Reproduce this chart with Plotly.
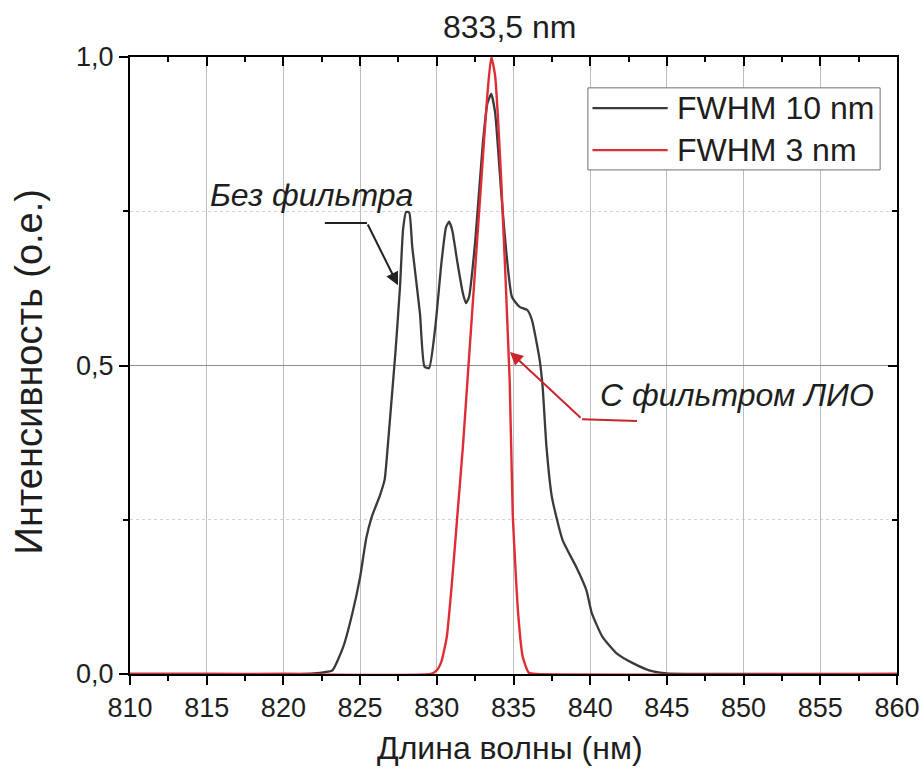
import plotly.graph_objects as go

# ---- data ----
wl_10nm = [810, 815, 820, 822, 822.7, 823.2, 823.9, 824.5, 825.0, 825.4, 825.75, 826.3, 826.6,
           826.8, 827.05, 827.3, 827.6, 827.8, 828.0, 828.2, 828.4, 828.9, 829.2, 829.5, 829.9,
           830.3, 830.6, 830.8, 831.0, 831.35, 831.7, 831.9, 832.1, 832.5, 833.0, 833.3, 833.55,
           833.8, 834.2, 834.5, 834.9, 835.4, 835.9, 836.2, 836.7, 836.9, 837.15, 837.5, 838.2,
           839.1, 839.75, 840.1, 840.8, 841.7, 842.75, 843.85, 845, 850, 860]
int_10nm = [0.0, 0.0, 0.0, 0.001, 0.003, 0.006, 0.044, 0.099, 0.157, 0.22, 0.254, 0.29, 0.315,
            0.368, 0.444, 0.52, 0.627, 0.72, 0.749, 0.748, 0.692, 0.585, 0.498, 0.496, 0.562,
            0.666, 0.724, 0.733, 0.72, 0.666, 0.617, 0.601, 0.611, 0.70, 0.86, 0.925, 0.94,
            0.91, 0.78, 0.692, 0.611, 0.595, 0.59, 0.574, 0.51, 0.465, 0.368, 0.287, 0.217,
            0.173, 0.136, 0.099, 0.06, 0.034, 0.018, 0.006, 0.001, 0.0, 0.0]

wl_3nm = [810, 820, 829.6, 830.0, 830.3, 830.65, 831.0, 831.35, 831.7, 832.0, 832.9, 833.3,
          833.55, 833.8, 834.2, 834.75, 834.95, 835.3, 835.6, 836.0, 836.5, 860]
int_3nm = [0.0, 0.0, 0.0, 0.006, 0.02, 0.06, 0.152, 0.26, 0.368, 0.476, 0.8, 0.94,
           1.0, 0.97, 0.8, 0.476, 0.26, 0.099, 0.028, 0.002, 0.0, 0.0]

x_ticks = [810, 815, 820, 825, 830, 835, 840, 845, 850, 855, 860]
y_ticks = [0.0, 0.5, 1.0]
y_tick_labels = ["0,0", "0,5", "1,0"]

series_names = ["FWHM 10 nm", "FWHM 3 nm"]
peak_label = "833,5 nm"
label_no_filter = "Без фильтра"
label_filter = "С фильтром ЛИО"
x_title = "Длина волны (нм)"
y_title = "Интенсивность (о.е.)"

FONT = "Liberation Sans, Arial, sans-serif"
TXT = "#1e1e1e"
BLACK = "#3a3a3a"
RED = "#de2d34"
colors = [BLACK, RED]

fig = go.Figure()
fig.add_trace(go.Scatter(x=wl_10nm, y=int_10nm, mode="lines", name=series_names[0],
                         line=dict(color=BLACK, width=2.3, shape="spline", smoothing=0.5)))
fig.add_trace(go.Scatter(x=wl_3nm, y=int_3nm, mode="lines", name=series_names[1],
                         line=dict(color=RED, width=2.4, shape="spline", smoothing=0.5)))
# invisible trace to activate the mirrored axes
fig.add_trace(go.Scatter(x=[810], y=[0], xaxis="x2", yaxis="y2", mode="markers",
                         marker=dict(opacity=0), showlegend=False, hoverinfo="skip"))

tickfont = dict(family=FONT, size=27, color=TXT)
fig.update_layout(
    width=922, height=773,
    margin=dict(l=130, r=25, t=57, b=99, autoexpand=False),
    plot_bgcolor="white", paper_bgcolor="white",
    font=dict(family=FONT, color=TXT),
    showlegend=False,
    xaxis=dict(range=[810, 860], tickvals=x_ticks, ticks="outside", ticklen=9, tickwidth=2,
               tickcolor="black", showline=True, linecolor="black", linewidth=2,
               showgrid=True, gridcolor="#bdbdbd", gridwidth=1, zeroline=False,
               tickfont=tickfont, automargin=False,
               minor=dict(dtick=2.5, ticks="outside", ticklen=5, tickwidth=2, tickcolor="black",
                          showgrid=False)),
    yaxis=dict(range=[0, 1], tickvals=y_ticks, ticktext=y_tick_labels, ticks="outside",
               ticklen=9, tickwidth=2, tickcolor="black", showline=True, linecolor="black",
               linewidth=2, showgrid=True, gridcolor="#8e8e8e", gridwidth=1, zeroline=False,
               tickfont=tickfont, automargin=False,
               minor=dict(dtick=0.25, ticks="outside", ticklen=5, tickwidth=2, tickcolor="black",
                          showgrid=True, gridcolor="#d4d4d4", griddash="dot", gridwidth=1)),
    xaxis2=dict(range=[810, 860], overlaying="x", side="top", tickvals=x_ticks, ticks="inside",
                ticklen=9, tickwidth=2, tickcolor="black", showticklabels=False, showgrid=False,
                showline=True, linecolor="black", linewidth=2, zeroline=False, automargin=False,
                minor=dict(dtick=2.5, ticks="inside", ticklen=5, tickwidth=2, tickcolor="black")),
    yaxis2=dict(range=[0, 1], overlaying="y", side="right", tickvals=y_ticks, ticks="inside",
                ticklen=9, tickwidth=2, tickcolor="black", showticklabels=False, showgrid=False,
                showline=True, linecolor="black", linewidth=2, zeroline=False, automargin=False,
                minor=dict(dtick=0.25, ticks="inside", ticklen=5, tickwidth=2, tickcolor="black")),
)

# axis titles
fig.add_annotation(text=x_title, xref="paper", yref="paper", x=0.495, y=-0.12,
                   xanchor="center", yanchor="middle", showarrow=False,
                   font=dict(family=FONT, size=32, color=TXT))
fig.add_annotation(text=y_title, xref="paper", yref="paper", x=-0.132, y=0.49,
                   xanchor="center", yanchor="middle", textangle=-90, showarrow=False,
                   font=dict(family=FONT, size=38, color=TXT))

# peak label above plot
fig.add_annotation(text=peak_label, xref="paper", yref="paper", x=0.495, y=1.0,
                   xanchor="center", yanchor="bottom", yshift=10, showarrow=False,
                   font=dict(family=FONT, size=32, color=TXT))

# manual legend (box, sample lines, labels)
fig.add_shape(type="rect", xref="paper", yref="paper", x0=0.597, x1=0.978, y0=0.817, y1=0.950,
              line=dict(color="#707070", width=1), fillcolor="white", layer="above")
for i, (name, col) in enumerate(zip(series_names, colors)):
    yy = 0.917 - i * 0.068
    fig.add_shape(type="line", xref="paper", yref="paper", x0=0.603, x1=0.701, y0=yy, y1=yy,
                  line=dict(color=col, width=2.3), layer="above")
    fig.add_annotation(text=name, xref="paper", yref="paper", x=0.711, y=yy, xanchor="left",
                       yanchor="middle", showarrow=False,
                       font=dict(family=FONT, size=32, color=TXT))

# "Без фильтра" label with bent arrow
fig.add_annotation(text="<i>" + label_no_filter + "</i>", x=821.86, y=0.776, xref="x", yref="y",
                   showarrow=False, font=dict(family=FONT, size=32, color=TXT))
fig.add_shape(type="line", x0=822.7, y0=0.731, x1=825.45, y1=0.731, xref="x", yref="y",
              line=dict(color="#222", width=2))
fig.add_annotation(x=827.47, y=0.630, ax=825.45, ay=0.731, xref="x", yref="y", axref="x",
                   ayref="y", text="", showarrow=True, arrowhead=2, arrowsize=1.3,
                   arrowwidth=2, arrowcolor="#222")

# "С фильтром ЛИО" label with bent arrow
fig.add_annotation(text="<i>" + label_filter + "</i>", x=849.57, y=0.452, xref="x", yref="y",
                   showarrow=False, font=dict(family=FONT, size=32, color=TXT))
fig.add_shape(type="line", x0=843.05, y0=0.41, x1=839.47, y1=0.413, xref="x", yref="y",
              line=dict(color="#c8262c", width=2))
fig.add_annotation(x=834.77, y=0.522, ax=839.47, ay=0.413, xref="x", yref="y", axref="x",
                   ayref="y", text="", showarrow=True, arrowhead=2, arrowsize=1.3,
                   arrowwidth=2, arrowcolor="#c8262c")

# remove the default 8px body margin so the 922x773 figure fills the window exactly
fig.write_html("out.html",
               config={"displayModeBar": False, "staticPlot": True},
               post_script="document.body.style.margin='0';document.body.style.overflow='hidden';")
